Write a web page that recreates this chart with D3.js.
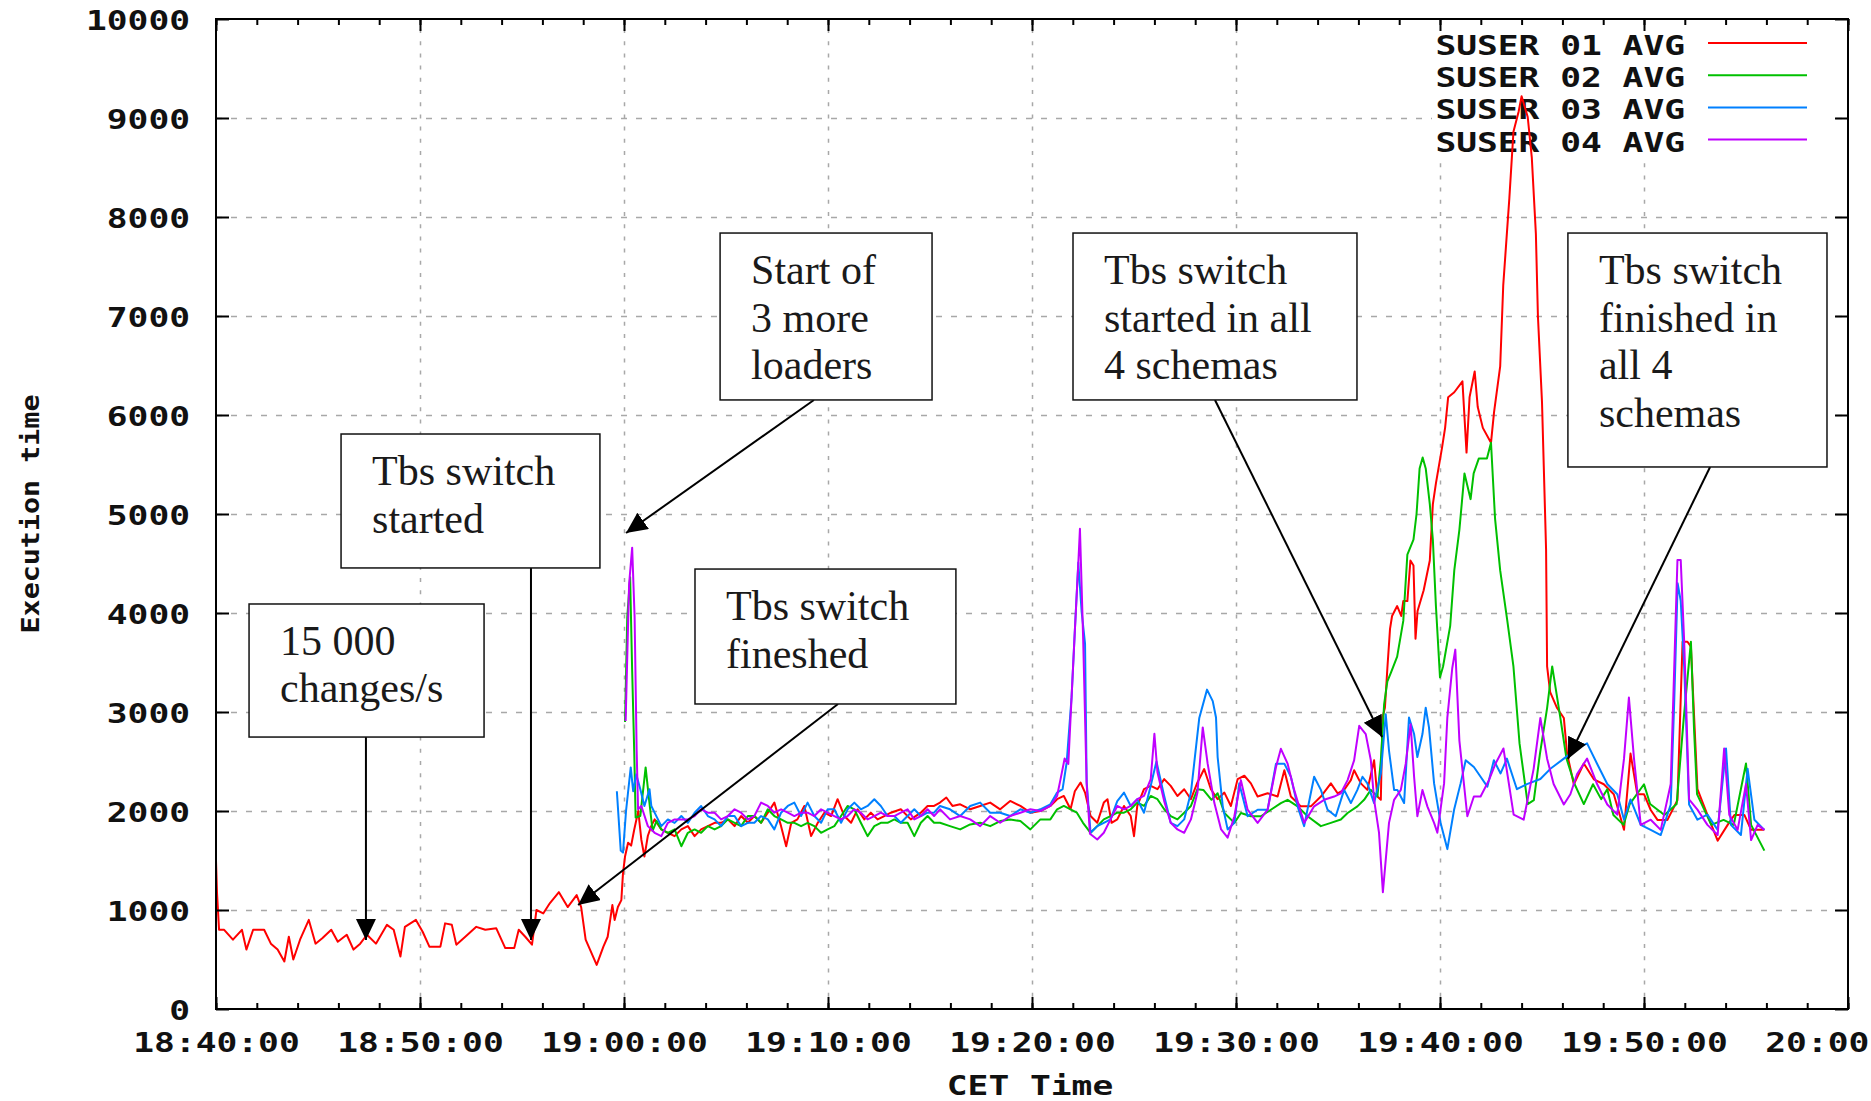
<!DOCTYPE html>
<html>
<head>
<meta charset="utf-8">
<title>Execution time</title>
<script src="https://cdn.jsdelivr.net/npm/d3@7"></script>
<style>
  html, body { margin: 0; padding: 0; background: #fff; }
  svg { display: block; }
</style>
</head>
<body>
<div id="chart"></div>
<script>
// Execution time of the four loader schemas (gnuplot style chart)

const xTickLabels = ['18:40:00', '18:50:00', '19:00:00', '19:10:00', '19:20:00',
  '19:30:00', '19:40:00', '19:50:00', '20:00:00'];
const yTickValues = [0, 1000, 2000, 3000, 4000, 5000, 6000, 7000, 8000, 9000, 10000];
const yTickLabels = ['0', '1000', '2000', '3000', '4000', '5000', '6000', '7000', '8000', '9000', '10000'];
const seriesNames = ['SUSER 01 AVG', 'SUSER 02 AVG', 'SUSER 03 AVG', 'SUSER 04 AVG'];
const seriesColors = ['#ff0000', '#00c000', '#0080ff', '#c000ff'];

// [minutes after 18:40, execution time]
const suser01 = [[0,1500],[0.05,1170],[0.15,800],[0.4,800],[0.83,700],[1.27,800],[1.49,600],[1.82,800],
  [2.36,800],[2.69,660],[3.02,600],[3.35,480],[3.57,730],[3.79,500],[4.12,700],[4.55,900],[4.88,660],
  [5.21,715],[5.65,800],[5.97,680],[6.41,750],[6.74,600],[7.07,660],[7.4,750],[7.84,660],[8.38,850],
  [8.71,800],[9.04,530],[9.26,830],[9.8,900],[10.13,780],[10.46,630],[11.0,630],[11.23,865],[11.56,850],
  [11.78,650],[12.22,730],[12.76,830],[13.2,800],[13.74,815],[14.18,615],[14.62,615],[14.84,800],
  [15.16,730],[15.49,650],[15.71,1000],[16.04,965],[16.37,1070],[16.81,1180],[17.24,1030],[17.68,1150],
  [17.9,1030],[18.12,700],[18.66,445],[18.99,630],[19.2,730],[19.43,1050],[19.54,900],[19.7,1030],
  [19.87,1100],[19.95,1370],[20.05,1540],[20.2,1680],[20.35,1650],[20.5,1810],[20.7,2000],[20.85,1710],
  [21.0,1540],[21.17,1750],[21.34,1850],[21.5,1915],[21.83,1814],[22.15,1780],[22.48,1746],[22.81,1814],
  [23.13,1847],[23.46,1746],[23.78,1814],[24.11,1847],[24.44,1881],[24.76,1881],[25.09,1915],[25.42,1847],
  [25.74,1949],[26.07,1881],[26.39,1949],[26.72,1881],[27.05,1983],[27.37,2085],[27.7,1847],[27.95,1644],
  [28.2,1881],[28.5,1915],[28.84,2051],[29.17,1746],[29.5,1881],[29.82,1983],[30.15,1949],[30.47,2119],
  [30.8,1949],[31.13,1881],[31.45,2017],[31.78,1915],[32.1,1983],[32.43,1915],[32.76,1949],[33.08,1983],
  [33.57,2017],[34.06,1915],[34.55,1983],[34.88,2051],[35.2,2051],[35.49,2085],[35.8,2136],[36.1,2051],
  [36.48,2068],[36.97,2017],[37.46,2051],[37.95,2085],[38.44,2017],[38.93,2102],[39.43,2051],[39.92,1983],
  [40.41,2000],[40.9,2051],[41.23,2119],[41.56,2152],[41.89,2017],[42.1,2200],[42.38,2288],[42.6,2186],
  [42.87,1949],[43.2,1881],[43.52,2085],[43.7,2119],[43.9,1881],[44.18,1915],[44.51,2051],[44.84,1949],
  [45.0,1746],[45.16,2051],[45.49,2220],[45.82,2254],[46.15,2220],[46.48,2322],[46.8,2254],[47.13,2152],
  [47.46,2220],[47.79,2119],[48.11,2288],[48.44,2424],[48.77,2220],[49.1,2119],[49.43,2186],[49.75,2051],
  [50.08,2322],[50.41,2356],[50.73,2279],[51.06,2146],[51.55,2179],[52.04,2146],[52.37,2412],[52.69,2146],
  [53.18,2047],[53.67,2047],[54.16,2146],[54.65,2279],[54.98,2179],[55.3,2213],[55.63,2312],[55.79,2412],
  [56.12,2279],[56.44,2213],[56.77,2512],[56.93,2146],[57.1,2113],[57.18,2944],[57.3,3043],[57.42,3442],
  [57.55,3840],[57.65,3970],[57.9,4070],[58.1,3970],[58.2,4120],[58.4,4120],[58.55,4530],[58.7,4480],
  [58.8,3740],[58.9,4020],[59.2,4230],[59.5,4530],[59.65,5100],[59.8,5310],[60.1,5670],[60.25,5870],
  [60.4,6180],[60.7,6230],[61.1,6340],[61.3,5620],[61.45,6180],[61.7,6440],[61.85,6080],[62.1,5870],
  [62.5,5720],[62.65,6030],[62.95,6490],[63.1,7310],[63.4,8190],[63.6,8860],[63.85,9060],[64.0,9220],
  [64.3,9010],[64.5,8600],[64.7,7830],[64.8,7000],[65.0,6130],[65.2,4640],[65.25,3460],[65.4,3200],
  [65.74,3040],[66.07,2940],[66.23,2580],[66.56,2270],[67.05,2480],[67.54,2320],[68.03,2270],[68.52,2170],
  [69.02,1810],[69.34,2580],[69.67,2170],[70.0,2170],[70.33,2010],[70.66,1910],[71.15,1910],[71.64,2110],
  [71.89,3710],[72.13,3710],[72.3,3660],[72.46,2940],[72.62,2220],[73.11,1960],[73.61,1700],[74.1,1860],
  [74.43,1960],[74.92,1960],[75.25,1810],[75.9,1810]];

const suser02 = [[20.05,2900],[20.16,3960],[20.3,4360],[20.4,3420],[20.5,2610],[20.57,1935],[20.8,1950],
  [21.06,2440],[21.2,2170],[21.4,1800],[21.6,1900],[21.83,1814],[22.15,1780],[22.48,1814],[22.81,1644],
  [23.13,1780],[23.46,1814],[23.78,1780],[24.11,1847],[24.44,1814],[24.76,1847],[25.09,1915],[25.42,1881],
  [25.74,1847],[26.07,1949],[26.39,1949],[26.72,1881],[27.05,2017],[27.37,1949],[27.7,1915],[28.03,1881],
  [28.35,1881],[28.68,1847],[29.0,1881],[29.33,1847],[29.66,1780],[29.98,1814],[30.31,1847],[30.64,1949],
  [30.96,2051],[31.29,2017],[31.61,1881],[31.94,1746],[32.27,1847],[32.59,1881],[32.92,1881],[33.25,1915],
  [33.57,1881],[33.9,1881],[34.23,1746],[34.55,1881],[34.88,1949],[35.2,1881],[35.49,1881],[35.98,1847],
  [36.48,1814],[36.97,1864],[37.46,1881],[37.95,1847],[38.44,1898],[38.93,1915],[39.43,1898],[39.92,1814],
  [40.41,1915],[40.9,1915],[41.23,2017],[41.56,2051],[41.89,2017],[42.2,1983],[42.5,1881],[42.87,1780],
  [43.2,1847],[43.52,1915],[43.85,1949],[44.18,1983],[44.51,1983],[44.84,2017],[45.16,2085],[45.49,2051],
  [45.82,2152],[46.15,2119],[46.48,2017],[46.8,1949],[47.13,1915],[47.46,1983],[47.79,2051],[48.11,2220],
  [48.4,2213],[48.8,2113],[49.1,2179],[49.43,1980],[49.92,1880],[50.24,1980],[50.73,1947],[51.22,1947],
  [51.71,2013],[52.2,2080],[52.53,2113],[53.02,2047],[53.51,1947],[54.16,1847],[54.65,1880],[55.14,1914],
  [55.47,1980],[55.95,2047],[56.28,2113],[56.61,2213],[56.93,2146],[57.1,2512],[57.26,3076],[57.42,3309],
  [57.6,3400],[57.9,3560],[58.2,3920],[58.4,4590],[58.7,4740],[58.85,5000],[59.0,5460],[59.15,5570],
  [59.3,5460],[59.5,5100],[59.65,4740],[59.8,4070],[60.0,3350],[60.15,3460],[60.5,3870],[60.7,4430],
  [60.95,4840],[61.2,5410],[61.5,5150],[61.65,5410],[61.9,5560],[62.3,5560],[62.5,5720],[62.7,4950],
  [62.95,4430],[63.3,3920],[63.6,3460],[63.9,2680],[64.3,2070],[64.6,2110],[64.9,2580],[65.25,3040],
  [65.5,3460],[65.9,2940],[66.2,2530],[66.6,2270],[67.05,2070],[67.5,2270],[67.9,2120],[68.2,2220],
  [68.5,1960],[69.0,1860],[69.3,2070],[70.0,2270],[70.3,2070],[71.0,1960],[71.6,2070],[71.95,2940],
  [72.3,3710],[72.45,2840],[72.6,2170],[73.3,1860],[73.9,1910],[74.4,1860],[75.0,2480],[75.25,1860],
  [75.9,1600]];

const suser03 = [[19.65,2200],[19.84,1600],[19.95,1580],[20.1,2000],[20.33,2440],[20.45,2200],[20.6,2370],
  [20.8,2220],[21.0,2050],[21.25,2220],[21.34,2050],[21.5,1983],[21.83,1847],[22.15,1915],[22.48,1880],
  [22.81,1949],[23.13,1880],[23.46,1983],[23.78,2051],[24.11,1949],[24.44,1915],[24.76,1847],[25.09,1949],
  [25.42,1949],[25.74,1847],[26.07,1881],[26.39,1881],[26.72,1949],[27.05,1915],[27.37,1814],[27.7,1983],
  [28.03,2051],[28.35,2085],[28.68,1949],[29.0,2085],[29.33,1949],[29.66,1881],[29.98,2017],[30.31,2017],
  [30.64,1881],[30.96,2017],[31.29,2085],[31.61,2017],[31.94,2051],[32.27,2119],[32.59,2051],[32.92,1949],
  [33.25,1949],[33.57,1881],[33.9,1949],[34.23,2017],[34.55,1949],[34.88,1983],[35.2,1983],[35.49,2051],
  [35.98,2017],[36.48,1949],[36.97,2051],[37.46,2085],[37.95,1983],[38.44,1983],[38.93,1949],[39.43,2017],
  [39.92,1983],[40.41,2017],[40.9,2068],[41.23,2186],[41.5,2220],[41.7,2490],[41.94,3150],[42.1,3820],
  [42.27,4510],[42.43,4020],[42.6,3690],[42.68,2290],[42.87,1780],[43.2,1847],[43.52,1881],[43.85,1915],
  [44.18,2100],[44.51,2186],[44.84,2051],[45.16,2119],[45.49,1983],[45.82,2254],[46.1,2500],[46.48,2152],
  [46.8,1881],[47.13,1847],[47.46,1915],[47.79,2186],[48.2,2940],[48.58,3226],[48.86,3110],[49.02,2944],
  [49.1,2545],[49.35,2047],[49.59,1814],[49.92,1880],[50.16,2279],[50.57,1947],[51.06,2013],[51.55,2013],
  [51.96,2478],[52.37,2478],[52.69,2346],[53.02,2047],[53.34,1847],[53.83,2346],[54.16,2213],[54.49,2013],
  [54.89,1947],[55.3,2213],[55.63,2080],[55.95,2213],[56.2,2346],[56.44,2279],[56.77,2080],[57.1,2379],
  [57.34,2977],[57.5,2611],[57.75,2213],[57.91,2213],[58.24,2080],[58.48,2944],[58.73,2777],[58.89,2545],
  [59.14,2777],[59.3,3043],[59.46,2844],[59.71,2279],[60.03,1880],[60.36,1615],[60.69,2013],[61.01,2279],
  [61.26,2512],[61.66,2445],[61.99,2346],[62.32,2246],[62.64,2512],[62.97,2379],[63.28,2529],[63.77,2220],
  [64.26,2272],[64.92,2323],[65.41,2426],[66.07,2529],[66.72,2632],[67.21,2683],[67.7,2477],[68.2,2272],
  [68.69,2169],[69.02,1912],[69.34,2117],[69.84,1860],[70.33,1809],[70.82,1757],[71.31,2066],[71.48,3095],
  [71.65,4300],[71.8,4124],[71.97,3455],[72.21,2066],[72.62,1912],[73.11,1963],[73.61,1809],[74.02,2632],
  [74.26,1860],[74.75,1757],[75.08,2426],[75.41,1912],[75.9,1809]];

const suser04 = [[20.08,2910],[20.25,4290],[20.4,4660],[20.52,3960],[20.62,2610],[20.69,2017],[20.85,2051],
  [21.17,1847],[21.5,1780],[21.83,1746],[22.15,1881],[22.48,1915],[22.81,1915],[23.13,1915],[23.46,1949],
  [23.78,2017],[24.11,1983],[24.44,1983],[24.76,1915],[25.09,1949],[25.42,2017],[25.74,1983],[26.07,1915],
  [26.39,1949],[26.72,2085],[27.05,2051],[27.37,1983],[27.7,2017],[28.03,1983],[28.35,1949],[28.68,1983],
  [29.0,1983],[29.33,1949],[29.66,2017],[29.98,1983],[30.31,1949],[30.64,1915],[30.96,1949],[31.29,2017],
  [31.61,1983],[31.94,1915],[32.27,1949],[32.59,1983],[32.92,1949],[33.25,1949],[33.57,1983],[33.9,2017],
  [34.23,1915],[34.55,1949],[34.88,2017],[35.2,1949],[35.49,2017],[35.98,1915],[36.48,1949],[36.97,1915],
  [37.46,1847],[37.95,1949],[38.44,1881],[38.93,1949],[39.43,1983],[39.92,2017],[40.41,2000],[40.9,2051],
  [41.23,2152],[41.4,2322],[41.6,2530],[41.78,2475],[41.94,3150],[42.1,3820],[42.27,4500],[42.35,4850],
  [42.51,3720],[42.68,2270],[42.84,1770],[43.2,1712],[43.52,1780],[43.85,1915],[44.18,2051],[44.51,2017],
  [44.84,2051],[45.16,2119],[45.49,2152],[45.82,2322],[46.0,2780],[46.15,2390],[46.48,2100],[46.8,1881],
  [47.13,1814],[47.46,1780],[47.79,1915],[48.11,2186],[48.37,2844],[48.61,2478],[48.94,2080],[49.27,1814],
  [49.59,1731],[49.92,1947],[50.24,2312],[50.57,2013],[51.06,1880],[51.55,2013],[51.96,2445],[52.2,2628],
  [52.53,2478],[52.85,2213],[53.34,1880],[53.83,2047],[54.32,2113],[54.81,2146],[55.14,2179],[55.47,2312],
  [55.79,2512],[56.04,2860],[56.36,2777],[56.61,2512],[56.77,2113],[57.01,1781],[57.2,1180],[57.5,1880],
  [57.75,2113],[58.08,2213],[58.32,2478],[58.56,2877],[58.73,2346],[58.89,1947],[59.14,2213],[59.38,2047],
  [59.71,1880],[59.87,1781],[60.2,2279],[60.36,2944],[60.6,3442],[60.75,3630],[60.95,2711],[61.34,1947],
  [61.66,2146],[61.99,2146],[62.4,2312],[62.72,2478],[63.11,2632],[63.61,1963],[64.1,1912],[64.59,2426],
  [64.92,2940],[65.25,2529],[65.57,2272],[66.07,2066],[66.39,2169],[66.72,2374],[67.21,2529],[67.7,2272],
  [68.2,2066],[68.69,1963],[69.02,2529],[69.26,3146],[69.51,2529],[69.84,1860],[70.33,1912],[70.82,1809],
  [71.31,2272],[71.64,4535],[71.8,4535],[71.97,3712],[72.21,2117],[72.62,2014],[73.11,1860],[73.61,1757],
  [73.93,2632],[74.18,1963],[74.59,1809],[75.0,2272],[75.25,1706],[75.57,1860],[75.9,1809]];

const allSeries = [suser01, suser02, suser03, suser04];

// Annotation call-outs
const annotationTexts = [
  ['15 000', 'changes/s'],
  ['Tbs switch', 'started'],
  ['Start of', '3 more', 'loaders'],
  ['Tbs switch', 'fineshed'],
  ['Tbs switch', 'started in all', '4 schemas'],
  ['Tbs switch', 'finished in', 'all 4', 'schemas']
];
// box corners [t0, v0, t1, v1] in minutes after 18:40 / execution time
const annotationBoxes = [
  [1.62, 4091, 13.14, 2747],
  [6.13, 5808, 18.82, 4455],
  [24.71, 7838, 35.1, 6152],
  [23.48, 4444, 36.27, 3081],
  [42.01, 7838, 55.93, 6152],
  [66.27, 7838, 78.97, 5475]
];
// arrow [tail t (on box bottom), tip t, tip value]
const annotationArrows = [
  [7.35, 7.35, 697],
  [15.44, 15.44, 697],
  [29.31, 20.1, 4808],
  [30.49, 17.75, 1050],
  [48.97, 57.16, 2747],
  [73.24, 66.27, 2525]
];

// Layout
const W = 1871, H = 1101;
const margin = { top: 19, right: 23, bottom: 92, left: 216 };
const plotW = W - margin.left - margin.right;
const plotH = H - margin.top - margin.bottom;
const monoFont = '"DejaVu Sans Mono", "Liberation Mono", monospace';
const serifFont = '"Liberation Serif", "DejaVu Serif", serif';
const charW = 20.8;

const parseClock = d3.timeParse('%H:%M:%S');
const xTicks = xTickLabels.map(parseClock);
const start = xTicks[0];
const atMinute = m => new Date(start.getTime() + m * 60000);

// Scales
const x = d3.scaleTime().domain([xTicks[0], xTicks[xTicks.length - 1]]).range([margin.left, W - margin.right]);
const y = d3.scaleLinear().domain([0, 10000]).range([H - margin.bottom, margin.top]);
const minorTicks = d3.timeMinute.every(2).range(xTicks[0], d3.timeSecond.offset(xTicks[xTicks.length - 1], 1));

// Create SVG
const svg = d3.select('#chart')
  .append('svg')
  .attr('width', W)
  .attr('height', H)
  .style('background-color', '#fff');

function monoText(sel, size) {
  sel.style('font-family', monoFont)
    .style('font-weight', 'bold')
    .style('font-size', size + 'px')
    .style('fill', '#111')
    .attr('textLength', function () { return this.textContent.length * charW; })
    .attr('lengthAdjust', 'spacingAndGlyphs');
}

// Grid
const gridX = svg.append('g')
  .attr('transform', `translate(0,${y(0)})`)
  .call(d3.axisBottom(x).tickValues(xTicks.slice(1, -1)).tickSize(-plotH).tickFormat(''));
const gridY = svg.append('g')
  .attr('transform', `translate(${margin.left},0)`)
  .call(d3.axisLeft(y).tickValues(yTickValues.slice(1, -1)).tickSize(-plotW).tickFormat(''));
[gridX, gridY].forEach(g => g.select('.domain').remove());
gridX.selectAll('line').attr('stroke', '#a8a8a8').attr('stroke-width', 1.5).attr('stroke-dasharray', '4,8.2');
gridY.selectAll('line').attr('stroke', '#a8a8a8').attr('stroke-width', 1.5).attr('stroke-dasharray', '6,9');

// Legend (blank area behind key)
const legend = svg.append('g').attr('class', 'legend');
legend.append('rect')
  .attr('x', 1432).attr('y', margin.top + 1)
  .attr('width', 395).attr('height', 137)
  .attr('fill', '#fff');
seriesNames.forEach((name, i) => {
  legend.append('text')
    .attr('x', 1685).attr('y', 55 + i * 32.2)
    .attr('text-anchor', 'end')
    .text(name)
    .call(monoText, 26);
  legend.append('line')
    .attr('x1', 1708).attr('x2', 1807)
    .attr('y1', 43 + i * 32.2).attr('y2', 43 + i * 32.2)
    .attr('stroke', seriesColors[i])
    .attr('stroke-width', 2);
});

// Lines
const line = d3.line()
  .x(d => x(atMinute(d[0])))
  .y(d => y(d[1]));

svg.append('g').attr('class', 'series')
  .selectAll('path')
  .data(allSeries)
  .join('path')
  .attr('fill', 'none')
  .attr('stroke', (d, i) => seriesColors[i])
  .attr('stroke-width', 2)
  .attr('stroke-linejoin', 'round')
  .attr('d', line);

// Annotations
svg.append('defs').append('marker')
  .attr('id', 'arrowhead')
  .attr('markerUnits', 'userSpaceOnUse')
  .attr('markerWidth', 22).attr('markerHeight', 22)
  .attr('refX', 21).attr('refY', 10)
  .attr('orient', 'auto')
  .append('path')
  .attr('d', 'M0,0 L21,10 L0,20 Z')
  .attr('fill', '#000');

const notes = svg.append('g').attr('class', 'annotations');
annotationTexts.forEach((lines, i) => {
  const [t0, v0, t1, v1] = annotationBoxes[i];
  const [tailT, tipT, tipV] = annotationArrows[i];
  const bx = x(atMinute(t0)), by = y(v0);
  const bw = x(atMinute(t1)) - bx, bh = y(v1) - by;

  notes.append('line')
    .attr('x1', x(atMinute(tailT))).attr('y1', y(v1))
    .attr('x2', x(atMinute(tipT))).attr('y2', y(tipV))
    .attr('stroke', '#000')
    .attr('stroke-width', 2)
    .attr('marker-end', 'url(#arrowhead)');

  notes.append('rect')
    .attr('x', bx).attr('y', by)
    .attr('width', bw).attr('height', bh)
    .attr('fill', '#fff')
    .attr('stroke', '#111')
    .attr('stroke-width', 1.5);

  lines.forEach((s, j) => {
    notes.append('text')
      .attr('x', bx + 31)
      .attr('y', by + 51 + j * 47.5)
      .style('font-family', serifFont)
      .style('font-size', '42px')
      .style('fill', '#1a1a1a')
      .text(s);
  });
});

// Border ticks (inward, mirrored)
const tickAxes = [
  svg.append('g').attr('transform', `translate(0,${y(0)})`)
    .call(d3.axisBottom(x).tickValues(minorTicks).tickSize(-6).tickFormat('')),
  svg.append('g').attr('transform', `translate(0,${y(0)})`)
    .call(d3.axisBottom(x).tickValues(xTicks).tickSize(-12).tickFormat('')),
  svg.append('g').attr('transform', `translate(0,${margin.top})`)
    .call(d3.axisTop(x).tickValues(minorTicks).tickSize(-6).tickFormat('')),
  svg.append('g').attr('transform', `translate(0,${margin.top})`)
    .call(d3.axisTop(x).tickValues(xTicks).tickSize(-12).tickFormat('')),
  svg.append('g').attr('transform', `translate(${margin.left},0)`)
    .call(d3.axisLeft(y).tickValues(yTickValues).tickSize(-13).tickFormat('')),
  svg.append('g').attr('transform', `translate(${W - margin.right},0)`)
    .call(d3.axisRight(y).tickValues(yTickValues).tickSize(-13).tickFormat(''))
];
tickAxes.forEach(g => {
  g.select('.domain').remove();
  g.selectAll('line').attr('stroke', '#000').attr('stroke-width', 2);
});

// Frame
svg.append('rect')
  .attr('x', margin.left).attr('y', margin.top)
  .attr('width', plotW).attr('height', plotH)
  .attr('fill', 'none')
  .attr('stroke', '#000')
  .attr('stroke-width', 2);

// Tick labels
const xLabels = svg.append('g')
  .attr('transform', `translate(0,${y(0)})`)
  .call(d3.axisBottom(x).tickValues(xTicks).tickSize(0).tickFormat((d, i) => xTickLabels[i]));
xLabels.select('.domain').remove();
xLabels.selectAll('text').attr('y', 43).attr('dy', null).call(monoText, 26);

const yLabels = svg.append('g')
  .attr('transform', `translate(${margin.left},0)`)
  .call(d3.axisLeft(y).tickValues(yTickValues).tickSize(0).tickPadding(26).tickFormat((d, i) => yTickLabels[i]));
yLabels.select('.domain').remove();
yLabels.selectAll('text').attr('dy', null).attr('y', 10).call(monoText, 26);

// Axis titles
svg.append('text')
  .attr('x', margin.left + plotW / 2 - 2)
  .attr('y', 1095)
  .attr('text-anchor', 'middle')
  .text('CET Time')
  .call(monoText, 26);

svg.append('text')
  .attr('transform', `translate(39,${margin.top + plotH / 2}) rotate(-90)`)
  .attr('text-anchor', 'middle')
  .text('Execution time')
  .style('font-family', monoFont)
  .style('font-weight', 'bold')
  .style('font-size', '25px')
  .style('fill', '#111')
  .attr('textLength', 239)
  .attr('lengthAdjust', 'spacingAndGlyphs');
</script>
</body>
</html>
